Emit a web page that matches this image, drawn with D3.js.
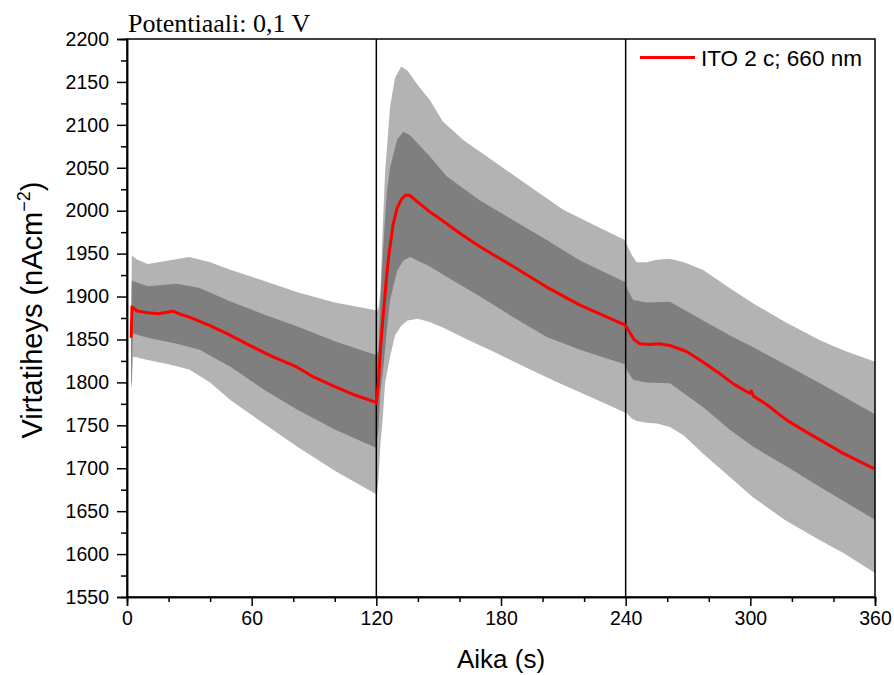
<!DOCTYPE html>
<html>
<head>
<meta charset="utf-8">
<script src="https://cdn.jsdelivr.net/npm/d3@7"></script>
<style>
  html, body { margin: 0; padding: 0; background: #fff; }
  svg { display: block; }
</style>
</head>
<body>
<svg id="chart" width="894" height="675"></svg>
<script>
// ---- data ----
const chartTitle = "Potentiaali: 0,1 V";
const xTitle = "Aika (s)";
const legendLabel = "ITO 2 c; 660 nm";
const xMajorTicks = [0, 60, 120, 180, 240, 300, 360];
const yMajorTicks = [1550, 1600, 1650, 1700, 1750, 1800, 1850, 1900, 1950, 2000, 2050, 2100, 2150, 2200];
const stepMarks = [120, 240];

// outer (light grey) band
const lightTime  = [2.0, 2.3, 2.8, 5, 10, 20, 30, 40, 50, 60, 70, 82, 100, 119.8,
  120.3, 121, 122, 123, 124.2, 126.6, 129, 132, 135, 140, 146, 152, 162, 178, 194, 210, 225, 239.6,
  240.2, 243, 245.3, 250, 255, 261.3, 268, 277.3, 290, 301.4, 317, 333.5, 345, 360];
const lightUpper = [1850, 1947, 1947, 1943, 1938, 1942, 1946, 1940, 1931, 1923, 1915, 1905, 1893, 1884,
  1884, 1886, 1905, 1975, 2044, 2121, 2155, 2168, 2163, 2146, 2128, 2104, 2082, 2055, 2028, 2001, 1983, 1966,
  1962, 1948, 1940, 1940, 1943, 1944, 1940, 1931, 1910, 1892, 1870, 1849, 1837, 1824];
const lightLower = [1795, 1795, 1830, 1829, 1826, 1821, 1815, 1800, 1779, 1762, 1745, 1725, 1697, 1670,
  1670, 1686, 1730, 1755, 1799, 1830, 1855, 1866, 1872, 1874, 1870, 1864, 1852, 1834, 1815, 1797, 1781, 1765,
  1765, 1758, 1755, 1753, 1752, 1748, 1738, 1717, 1690, 1666, 1639, 1616, 1601, 1578];

// inner (dark grey) band
const darkTime  = [2.0, 2.3, 2.8, 10, 24, 35, 50, 65, 82, 100, 119.8,
  121, 122, 123.4, 125, 126.6, 130, 133, 136.2, 145.8, 153.8, 169.9, 185.9, 202, 218, 239.6,
  241, 243.6, 250, 261.3, 277.3, 290, 301.4, 317.5, 333.5, 360];
const darkUpper = [1852, 1918, 1918, 1912, 1915, 1910, 1894, 1880, 1865, 1848, 1832,
  1836, 1900, 1960, 2020, 2050, 2083, 2092, 2088, 2063, 2040, 2012, 1989, 1966, 1942, 1917,
  1908, 1896, 1893, 1894, 1872, 1855, 1841, 1820, 1799, 1763];
const darkLower = [1800, 1800, 1857, 1852, 1845, 1838, 1818, 1793, 1768, 1745, 1724,
  1745, 1790, 1818, 1860, 1896, 1930, 1942, 1946, 1935, 1923, 1900, 1876, 1853, 1838, 1821,
  1812, 1803, 1800, 1799, 1771, 1745, 1725, 1702, 1678, 1640];

// mean current (red)
const meanTime = [2.0, 2.4, 5, 10, 15, 20, 22, 25, 30, 40, 49.6, 60, 70, 81.7, 90, 100, 110, 119.5, 120,
  121, 122, 123, 124, 125, 126, 128, 130, 132, 134, 136, 140, 145, 153.8, 160, 169.9, 185.9, 202, 218, 239.6, 240,
  242, 244, 246.8, 252, 256, 261.3, 269.3, 277, 285.4, 292, 299.8, 300.4, 301.5, 308, 317.5, 325, 333.5, 345, 360];
const meanValues = [1852, 1888, 1883, 1881, 1880, 1882, 1883, 1880, 1876, 1866, 1855, 1842, 1830, 1818, 1806, 1795, 1785, 1777, 1775,
  1800, 1840, 1870, 1897, 1925, 1948, 1983, 2003, 2013, 2018, 2018, 2010, 2000, 1985, 1974, 1958, 1935, 1911, 1890, 1867, 1866,
  1858, 1850, 1845, 1844, 1845, 1843, 1836, 1824, 1810, 1798, 1787, 1790, 1784, 1774, 1756, 1745, 1733, 1717, 1699];

// ---- layout ----
const margin = { left: 127, right: 19, top: 39, bottom: 78 };
const W = 894, H = 675;
const svg = d3.select("#chart");
const x = d3.scaleLinear().domain([0, 360]).range([margin.left, W - margin.right]);
const y = d3.scaleLinear().domain([1550, 2200]).range([H - margin.bottom, margin.top]);

const lightRows = lightTime.map((t, i) => ({ t, hi: lightUpper[i], lo: lightLower[i] }));
const darkRows = darkTime.map((t, i) => ({ t, hi: darkUpper[i], lo: darkLower[i] }));
const meanRows = meanTime.map((t, i) => ({ t, v: meanValues[i] }));

const area = d3.area().x(d => x(d.t)).y0(d => y(d.lo)).y1(d => y(d.hi));
svg.append("path").datum(lightRows).attr("d", area).attr("fill", "#b3b3b3");
svg.append("path").datum(darkRows).attr("d", area).attr("fill", "#7f7f7f");

// step markers
svg.selectAll("line.step").data(stepMarks).enter().append("line")
  .attr("class", "step")
  .attr("x1", d => x(d)).attr("x2", d => x(d))
  .attr("y1", y(2200)).attr("y2", y(1550))
  .attr("stroke", "#000").attr("stroke-width", 1.5);

// mean line
svg.append("path").datum(meanRows)
  .attr("d", d3.line().x(d => x(d.t)).y(d => y(d.v)))
  .attr("fill", "none").attr("stroke", "#ff0000").attr("stroke-width", 3)
  .attr("stroke-linejoin", "round");

// frame
svg.append("rect")
  .attr("x", x(0)).attr("y", y(2200))
  .attr("width", x(360) - x(0)).attr("height", y(1550) - y(2200))
  .attr("fill", "none").attr("stroke", "#000").attr("stroke-width", 1.5);

// axes
const tickFont = "'Liberation Sans', Arial, sans-serif";
const xMinor = d3.range(0, 361, 20).filter(v => !xMajorTicks.includes(v));
const yMinor = d3.range(1575, 2200, 50);

const gx = svg.append("g").attr("transform", `translate(0,${y(1550)})`)
  .call(d3.axisBottom(x).tickValues(xMajorTicks).tickSize(9).tickPadding(5).tickFormat(d3.format("d")));
const gxm = svg.append("g").attr("transform", `translate(0,${y(1550)})`)
  .call(d3.axisBottom(x).tickValues(xMinor).tickSize(5).tickFormat(""));
const gy = svg.append("g").attr("transform", `translate(${x(0)},0)`)
  .call(d3.axisLeft(y).tickValues(yMajorTicks).tickSize(10).tickPadding(8).tickFormat(d3.format("d")));
const gym = svg.append("g").attr("transform", `translate(${x(0)},0)`)
  .call(d3.axisLeft(y).tickValues(yMinor).tickSize(6).tickFormat(""));
[gx, gxm, gy, gym].forEach(g => {
  g.select(".domain").attr("stroke", "#000").attr("stroke-width", 1.5);
  g.selectAll(".tick line").attr("stroke", "#000").attr("stroke-width", 1.5);
  g.selectAll("text").attr("font-family", tickFont).attr("font-size", 19.5).attr("fill", "#000");
});

// titles
svg.append("text")
  .attr("x", (x(0) + x(360)) / 2).attr("y", 668)
  .attr("text-anchor", "middle")
  .attr("font-family", tickFont).attr("font-size", 26)
  .text(xTitle);

const yt = svg.append("text")
  .attr("transform", `translate(42,${(y(1550) + y(2200)) / 2 - 8}) rotate(-90)`)
  .attr("text-anchor", "middle")
  .attr("font-family", tickFont).attr("font-size", 29);
yt.append("tspan").text("Virtatiheys (nAcm");
yt.append("tspan").attr("font-size", 18).attr("dy", -12).text("−2");
yt.append("tspan").attr("dy", 12).text(")");

svg.append("text")
  .attr("x", 128).attr("y", 32)
  .attr("font-family", "'Liberation Serif', 'Times New Roman', serif").attr("font-size", 26)
  .text(chartTitle);

// legend
svg.append("line")
  .attr("x1", 640).attr("x2", 695).attr("y1", 57.5).attr("y2", 57.5)
  .attr("stroke", "#ff0000").attr("stroke-width", 3);
svg.append("text")
  .attr("x", 701).attr("y", 65.5)
  .attr("font-family", tickFont).attr("font-size", 22.5)
  .text(legendLabel);
</script>
</body>
</html>
